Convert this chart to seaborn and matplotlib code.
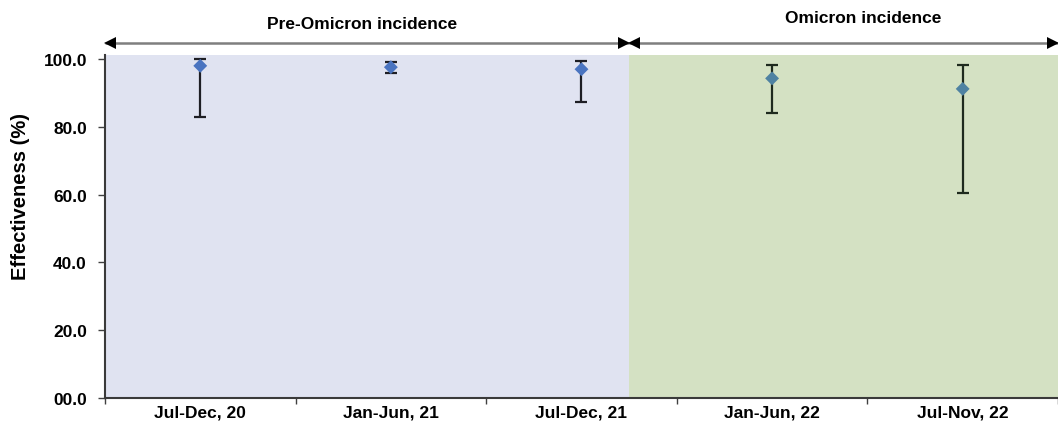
import matplotlib
matplotlib.use("Agg")
import matplotlib.pyplot as plt
import seaborn as sns
import pandas as pd
import numpy as np

sns.set_theme(style="white")
plt.rcParams['font.family'] = ['Liberation Sans', 'DejaVu Sans']
plt.rcParams['text.color'] = 'black'
plt.rcParams['axes.labelcolor'] = 'black'
plt.rcParams['xtick.color'] = 'black'
plt.rcParams['ytick.color'] = 'black'

categories = ["Jul-Dec, 20", "Jan-Jun, 21", "Jul-Dec, 21", "Jan-Jun, 22", "Jul-Nov, 22"]
effectiveness = [98.0, 97.6, 97.0, 94.3, 91.2]
ci_lower = [83.0, 95.8, 87.2, 84.2, 60.6]
ci_upper = [100.0, 99.0, 99.5, 98.1, 98.3]
period = ["Pre-Omicron", "Pre-Omicron", "Pre-Omicron", "Omicron", "Omicron"]
y_ticks = [0, 20, 40, 60, 80, 100]
y_tick_labels = ["00.0", "20.0", "40.0", "60.0", "80.0", "100.0"]
period_labels = ["Pre-Omicron incidence", "Omicron incidence"]

df = pd.DataFrame({"cat": categories, "pos": np.arange(len(categories)),
                   "eff": effectiveness, "lo": ci_lower, "hi": ci_upper, "period": period})

fig = plt.figure(figsize=(10.58, 4.27), dpi=100)
ax = fig.add_axes([0.0992, 0.0656, 0.9008, 0.8033])

ax.set_xlim(-0.5, 4.5)
ax.set_ylim(0, 101.2)

boundary = 2.25
ax.axvspan(-0.5, boundary, color="#E0E3F1", zorder=0, lw=0)
ax.axvspan(boundary, 4.5, color="#D4E1C3", zorder=0, lw=0)

colors = {"Pre-Omicron": "#4A74C0", "Omicron": "#4F82A2"}
ecolors = {"Pre-Omicron": "#1E1E24", "Omicron": "#1E2A1E"}
for p in ["Pre-Omicron", "Omicron"]:
    d = df[df.period == p]
    ax.errorbar(d.pos, d.eff, yerr=[d.eff - d.lo, d.hi - d.eff], fmt="none",
                ecolor=ecolors[p], elinewidth=1.6, capsize=4.5, capthick=1.6, zorder=2)
sns.scatterplot(data=df, x="pos", y="eff", hue="period", palette=colors, marker="D",
                s=50, edgecolor="none", legend=False, ax=ax, zorder=3)

ax.set_yticks(y_ticks)
ax.set_yticklabels(y_tick_labels, fontsize=12.5, fontweight="bold")
ax.set_xticks(np.arange(-0.5, 4.6, 1.0))
ax.set_xticklabels([])
ax.set_xticks(df.pos, minor=True)
ax.set_xticklabels(categories, minor=True, fontsize=12.5, fontweight="bold")
ax.tick_params(axis="x", which="minor", bottom=False, length=0, pad=5)
ax.tick_params(axis="x", which="major", bottom=True, length=4, width=1, color="#404040", direction="out")
ax.tick_params(axis="y", left=True, length=5, width=1, color="#404040", direction="out", pad=8)
ax.set_xlabel("")
ax.set_ylabel("Effectiveness (%)", fontsize=14.5, fontweight="bold")
ax.yaxis.set_label_coords(-0.079, 0.59)

for s in ["top", "right"]:
    ax.spines[s].set_visible(False)
for s in ["left", "bottom"]:
    ax.spines[s].set_color("#3A3A3A")
    ax.spines[s].set_linewidth(1.5)

# period arrows above the plot
ya = 104.8
ax.plot([-0.5, boundary], [ya, ya], color="#7F7F7F", lw=1.8, clip_on=False, solid_capstyle="butt")
ax.plot([boundary, 4.5], [ya, ya], color="#7F7F7F", lw=1.8, clip_on=False, solid_capstyle="butt")
dx = 0.028
ax.plot([-0.5 + dx], [ya], marker="<", ms=8.5, color="black", clip_on=False, mew=0)
ax.plot([boundary - dx], [ya], marker=">", ms=8.5, color="black", clip_on=False, mew=0)
ax.plot([boundary + dx], [ya], marker="<", ms=8.5, color="black", clip_on=False, mew=0)
ax.plot([4.5 - dx], [ya], marker=">", ms=8.5, color="black", clip_on=False, mew=0)

ax.text(0.85, 110.4, period_labels[0], ha="center", va="center", fontsize=12.5,
        fontweight="bold", clip_on=False)
ax.text(3.48, 112.2, period_labels[1], ha="center", va="center", fontsize=12.5,
        fontweight="bold", clip_on=False)

fig.savefig("out.png", dpi=100)
